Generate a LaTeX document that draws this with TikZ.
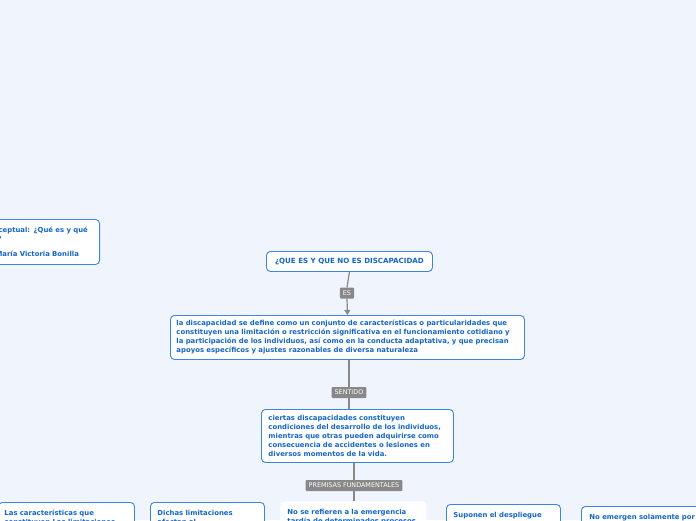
\documentclass[tikz,border=0pt]{standalone}
\usepackage{fontspec}
\setmainfont{DejaVu Sans}
\usetikzlibrary{arrows.meta}
\definecolor{bg}{HTML}{F0F4FD}
\definecolor{txtblue}{HTML}{1466C8}
\definecolor{brd}{HTML}{3A86E0}
\definecolor{labgray}{HTML}{888888}
\begin{document}
\begin{tikzpicture}[x=1pt,y=-1pt,
 box/.style={draw=brd, line width=0.9pt, fill=white, rounded corners=4pt, text=txtblue,
   font=\bfseries\fontsize{6.9}{9}\selectfont, align=left, inner xsep=7pt, inner ysep=5pt},
 lowbox/.style={box, anchor=north west, inner ysep=7.5pt, text depth=40pt},
 lab/.style={fill=labgray, text=white, font=\fontsize{6.4}{7}\selectfont, inner xsep=3pt, inner ysep=1.5pt, minimum height=11pt, rounded corners=1pt},
 conn/.style={draw=labgray, line width=1.2pt}]
\useasboundingbox[fill=bg] (0,0) rectangle (696,520);
\begin{scope}
\clip (0,0) rectangle (696,520);
% left node
\node[box, anchor=north east, text width=97pt, minimum height=45pt] (intro) at (100,219)
 {\hspace*{3pt}ceptual: ¿Qué es y qué\\\hspace*{2pt}?\\[6pt]María Victoria Bonilla};
% title
\node[box, anchor=north west, align=center, minimum width=166pt, minimum height=20pt, inner xsep=4pt,
   font=\bfseries\fontsize{7.1}{9}\selectfont] (title) at (266,251)
 {¿QUE ES Y QUE NO ES DISCAPACIDAD};
% definition
\node[box, anchor=north west, text width=342pt, inner xsep=6pt, minimum height=44pt] (def) at (170,315)
 {la discapacidad se define como un conjunto de características o particularidades que\\
  constituyen una limitación o restricción significativa en el funcionamiento cotidiano y\\
  la participación de los individuos, así como en la conducta adaptativa, y que precisan\\
  apoyos específicos y ajustes razonables de diversa naturaleza};
% sentido node
\node[box, anchor=north west, text width=178pt, minimum height=53pt] (sent) at (261,409)
 {ciertas discapacidades constituyen\\
  condiciones del desarrollo de los individuos,\\
  mientras que otras pueden adquirirse como\\
  consecuencia de accidentes o lesiones en\\
  diversos momentos de la vida.};
% labels
\node[lab] (es) at (347,293) {ES};
\node[lab] (sentido) at (349,392.5) {SENTIDO};
\node[lab] (prem) at (354,485.5) {PREMISAS FUNDAMENTALES};
% bottom nodes
\node[lowbox, text width=124pt, inner xsep=6pt] (ba) at (-2,502)
 {Las características que\\constituyen Las limitaciones};
\node[lowbox, text width=100pt] (bb) at (150,502)
 {Dichas limitaciones\\afectan al};
\node[lowbox, draw=none, text width=132pt] (bc) at (280,501)
 {No se refieren a la emergencia\\tardía de determinados procesos};
\node[lowbox, text width=100pt] (bd) at (446,504)
 {Suponen el despliegue};
\node[lowbox, text width=122pt, inner xsep=8pt] (be) at (581,506)
 {No emergen solamente por};
% connectors
\draw[conn] (title.south) -- (es.north);
\draw[conn, -{Triangle[length=5pt,width=6pt]}] (es.south) -- (def.north);
\draw[conn] (def.south -| sentido.north) -- (sentido.north);
\draw[conn] (sentido.south) -- (sentido.south |- sent.north);
\draw[conn] (prem.north |- sent.south) -- (prem.north);
\draw[conn] (prem.south) -- (prem.south |- bc.north);
\end{scope}
\end{tikzpicture}
\end{document}
